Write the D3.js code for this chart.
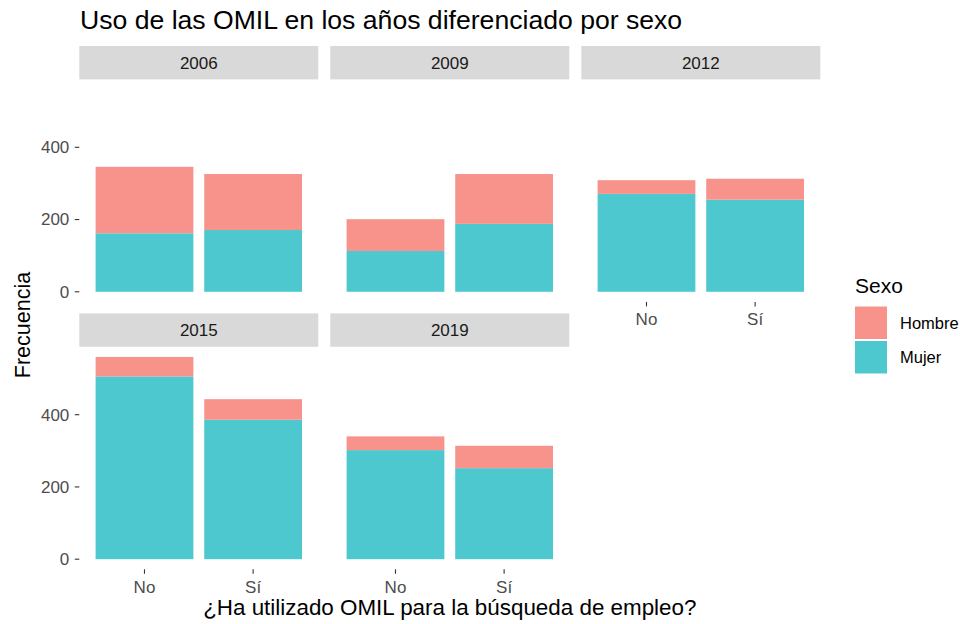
<!DOCTYPE html>
<html>
<head>
<meta charset="utf-8">
<script src="https://cdn.jsdelivr.net/npm/d3@7"></script>
<style>
  body { margin: 0; background: #fff; }
  text { font-family: "Liberation Sans", Arial, Helvetica, sans-serif; }
</style>
</head>
<body>
<div id="viz"></div>
<script>
"use strict";

var years = ["2006", "2009", "2012", "2015", "2019"];
var answers = ["No", "Sí"];
var sexes = ["Hombre", "Mujer"];
// counts per year, order: [No, Sí]
var mujer = [[162, 171], [113, 188], [271, 255], [506, 386], [302, 252]];
var hombre = [[184, 155], [88, 138], [38, 58], [54, 57], [38, 62]];
var yTicks = [0, 200, 400];

var w = 967;
var h = 624;

var colors = { Hombre: "#F8938B", Mujer: "#4DC8CF" };

var svg = d3.select("#viz")
  .append("svg")
  .attr("width", w)
  .attr("height", h)

// layout of the facet grid
var gridLeft = 79.3, panelW = 239, gapX = 12;
var gridTop = 46, stripH = 33.4, panelH = 222.5, gapY = 11.5;

function cellX(i) { return gridLeft + (i % 3) * (panelW + gapX); }
function cellY(i) { return gridTop + Math.floor(i / 3) * (stripH + panelH + gapY); }

var maxTotal = d3.max(years, function(d, i) {
  return d3.max(answers, function(a, j) { return mujer[i][j] + hombre[i][j]; });
});

var y = d3.scaleLinear()
  .domain([-0.05 * maxTotal, 1.05 * maxTotal])
  .range([panelH, 0]);

// ggplot discrete scale: bar width 0.9, 0.6 expansion each side
var x = d3.scaleBand()
  .domain(answers)
  .range([0, panelW])
  .paddingInner(0.1)
  .paddingOuter(0.15);

var stack = d3.stack().keys(["Mujer", "Hombre"]);

svg.append("text")
  .attr("x", 80)
  .attr("y", 28.5)
  .attr("font-size", 26.6)
  .attr("fill", "#000")
  .text("Uso de las OMIL en los años diferenciado por sexo");

years.forEach(function(yr, i) {
  var gx = cellX(i), gy = cellY(i);
  var g = svg.append("g").attr("transform", "translate(" + gx + "," + gy + ")");

  // strip
  g.append("rect")
    .attr("width", panelW)
    .attr("height", stripH)
    .attr("fill", "#D9D9D9");
  g.append("text")
    .attr("x", panelW / 2)
    .attr("y", stripH / 2)
    .attr("dy", "0.35em")
    .attr("text-anchor", "middle")
    .attr("font-size", 17)
    .attr("fill", "#1A1A1A")
    .text(yr);

  var panel = g.append("g").attr("transform", "translate(0," + stripH + ")");

  var rows = answers.map(function(a, j) {
    return { answer: a, Mujer: mujer[i][j], Hombre: hombre[i][j] };
  });
  var series = stack(rows);

  panel.selectAll("g.layer")
    .data(series).enter()
    .append("g")
    .attr("class", "layer")
    .attr("fill", function(d) { return colors[d.key]; })
    .selectAll("rect")
    .data(function(d) { return d; }).enter()
    .append("rect")
    .attr("x", function(d) { return x(d.data.answer); })
    .attr("width", x.bandwidth())
    .attr("y", function(d) { return y(d[1]); })
    .attr("height", function(d) { return y(d[0]) - y(d[1]); });

  // y axis on first column only
  if (i % 3 === 0) {
    var ya = panel.append("g");
    ya.selectAll("line")
      .data(yTicks).enter()
      .append("line")
      .attr("x1", -4.5).attr("x2", 0)
      .attr("y1", function(d) { return y(d); })
      .attr("y2", function(d) { return y(d); })
      .attr("stroke", "#333")
      .attr("stroke-width", 1.1);
    ya.selectAll("text")
      .data(yTicks).enter()
      .append("text")
      .attr("x", -10)
      .attr("y", function(d) { return y(d); })
      .attr("dy", "0.35em")
      .attr("text-anchor", "end")
      .attr("font-size", 17)
      .attr("fill", "#4D4D4D")
      .text(function(d) { return d; });
  }

  // x axis on bottom panel of each column
  if (i >= 2) {
    var xa = panel.append("g").attr("transform", "translate(0," + panelH + ")");
    var cx = function(d) { return x(d) + x.bandwidth() / 2; };
    xa.selectAll("line")
      .data(answers).enter()
      .append("line")
      .attr("x1", cx)
      .attr("x2", cx)
      .attr("y1", 0).attr("y2", 4.5)
      .attr("stroke", "#333")
      .attr("stroke-width", 1.1);
    xa.selectAll("text")
      .data(answers).enter()
      .append("text")
      .attr("x", cx)
      .attr("y", 23.5)
      .attr("text-anchor", "middle")
      .attr("font-size", 17)
      .attr("fill", "#4D4D4D")
      .text(function(d) { return d; });
  }
});

// axis titles
svg.append("text")
  .attr("x", (gridLeft + cellX(2) + panelW) / 2)
  .attr("y", 615)
  .attr("text-anchor", "middle")
  .attr("font-size", 22.4)
  .attr("fill", "#000")
  .text("¿Ha utilizado OMIL para la búsqueda de empleo?");

svg.append("text")
  .attr("transform", "translate(30,325) rotate(-90)")
  .attr("text-anchor", "middle")
  .attr("font-size", 21.5)
  .attr("fill", "#000")
  .text("Frecuencia");

// legend
var legend = svg.append("g").attr("transform", "translate(855,0)");
legend.append("text")
  .attr("x", 0)
  .attr("y", 293)
  .attr("font-size", 21)
  .attr("fill", "#000")
  .text("Sexo");

var keys = legend.selectAll("g.key")
  .data(sexes).enter()
  .append("g")
  .attr("class", "key")
  .attr("transform", function(d, k) { return "translate(0," + (306.5 + k * 34.5) + ")"; });
keys.append("rect")
  .attr("width", 32)
  .attr("height", 32.5)
  .attr("fill", function(d) { return colors[d]; });
keys.append("text")
  .attr("x", 45)
  .attr("y", 16.5)
  .attr("dy", "0.35em")
  .attr("font-size", 16.5)
  .attr("fill", "#000")
  .text(function(d) { return d; });
</script>
</body>
</html>
